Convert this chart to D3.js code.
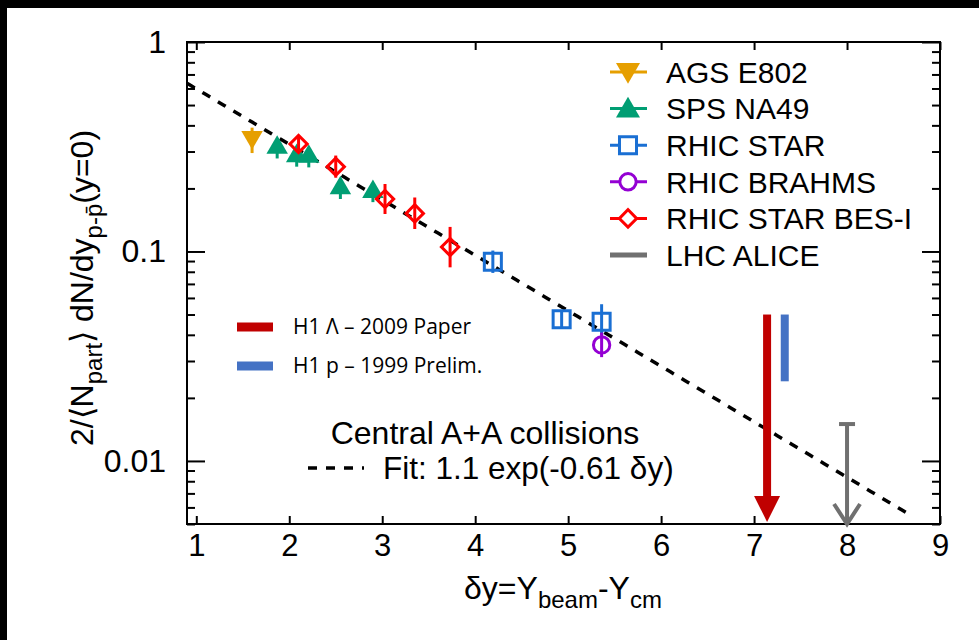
<!DOCTYPE html>
<html>
<head>
<meta charset="utf-8">
<script src="https://cdn.jsdelivr.net/npm/d3@7"></script>
<style>
html, body { margin: 0; padding: 0; background: #000; overflow: hidden; }
svg { display: block; }
text { font-family: "Liberation Sans", Arial, sans-serif; fill: #000; }
</style>
</head>
<body>
<div id="chart"></div>
<script>
// values (dy, yield, error range)
var agsE802 = [ {x: 1.60, y: 0.340, lo: 0.295, hi: 0.390} ];
var spsNA49 = [
    {x: 1.87, y: 0.320, lo: 0.278, hi: 0.345},
    {x: 2.08, y: 0.292, lo: 0.254, hi: 0.315},
    {x: 2.21, y: 0.290, lo: 0.252, hi: 0.312},
    {x: 2.55, y: 0.205, lo: 0.178, hi: 0.222},
    {x: 2.90, y: 0.197, lo: 0.172, hi: 0.212}
];
var rhicStar = [
    {x: 4.19, y: 0.0894, lo: 0.079, hi: 0.101},
    {x: 4.93, y: 0.0475, lo: 0.0436, hi: 0.0518},
    {x: 5.36, y: 0.0462, lo: 0.040, hi: 0.0560}
];
var rhicBrahms = [ {x: 5.36, y: 0.0358, lo: 0.0313, hi: 0.041} ];
var starBES = [
    {x: 2.10, y: 0.326, lo: 0.302, hi: 0.352},
    {x: 2.50, y: 0.254, lo: 0.225, hi: 0.287},
    {x: 3.03, y: 0.178, lo: 0.151, hi: 0.210},
    {x: 3.35, y: 0.152, lo: 0.128, hi: 0.181},
    {x: 3.73, y: 0.105, lo: 0.084, hi: 0.131}
];
var aliceLimit = [ {x: 8.0, y: 0.015} ];
var h1Lambda = [ {x: 7.14, top: 0.05} ];
var h1Proton = [ {x: 7.33, top: 0.05, bottom: 0.024} ];

// fit: 1.1 exp(-0.61 dy)
var fitA = 1.1, fitB = 0.61, fitRange = [0.9, 8.65];

var xTicks = [1, 2, 3, 4, 5, 6, 7, 8, 9];
var yMajor = [0.01, 0.1, 1];
var yTickLabels = ["0.01", "0.1", "1"];

var legendNames = ["AGS E802", "SPS NA49", "RHIC STAR", "RHIC BRAHMS", "RHIC STAR BES-I", "LHC ALICE"];
var legendColors = ["#E69F00", "#009E73", "#1A6FD3", "#9400D3", "#FF0000", "#707070"];
var legendShapes = ["tri-down", "tri-up", "square", "circle", "diamond", "none"];

// helpful variables
var W = 979, H = 640,
    plotL = 187, plotR = 940, plotT = 42, plotB = 524;

var svg = d3.select("#chart").append("svg")
    .attr("width", W)
    .attr("height", H);

svg.append("rect")
    .attr("x", 7).attr("y", 8)
    .attr("width", W - 7).attr("height", H - 8)
    .style("fill", "#fff");

var x = d3.scaleLinear().domain([0.9, 9.0]).range([plotL, plotR]);
var y = d3.scaleLog().domain([0.005, 1]).range([plotB, plotT]);

// minor y ticks 2..9 per decade
var yMinor = [];
[0.001, 0.01, 0.1].forEach(function(d) {
    for (var k = 2; k <= 9; k++) {
        var v = d * k;
        if (v >= 0.005 && v <= 1) yMinor.push(v);
    }
});

function styleAxis(g) {
    g.selectAll(".domain").remove();
    g.selectAll(".tick line").style("stroke", "#000").style("stroke-width", 2);
}

// x axes (inward ticks)
svg.append("g")
    .attr("transform", "translate(0," + plotB + ")")
    .call(d3.axisBottom(x).tickValues(xTicks).tickSize(-8).tickPadding(10).tickFormat(d3.format("d")))
    .call(styleAxis)
    .selectAll("text")
    .style("font-size", "31px");

svg.append("g")
    .attr("transform", "translate(0," + plotT + ")")
    .call(d3.axisTop(x).tickValues(xTicks).tickSize(-8).tickFormat(""))
    .call(styleAxis);

// y axes
svg.append("g")
    .attr("transform", "translate(" + plotL + ",0)")
    .call(d3.axisLeft(y).tickValues(yMajor).tickSize(-18).tickPadding(21)
        .tickFormat(function(d, i) { return yTickLabels[i]; }))
    .call(styleAxis)
    .selectAll("text")
    .style("font-size", "32px");

svg.append("g")
    .attr("transform", "translate(" + plotL + ",0)")
    .call(d3.axisLeft(y).tickValues(yMinor).tickSize(-8).tickFormat(""))
    .call(styleAxis);

svg.append("g")
    .attr("transform", "translate(" + plotR + ",0)")
    .call(d3.axisRight(y).tickValues(yMajor).tickSize(-18).tickFormat(""))
    .call(styleAxis);

svg.append("g")
    .attr("transform", "translate(" + plotR + ",0)")
    .call(d3.axisRight(y).tickValues(yMinor).tickSize(-8).tickFormat(""))
    .call(styleAxis);

// frame
svg.append("rect")
    .attr("x", plotL).attr("y", plotT)
    .attr("width", plotR - plotL).attr("height", plotB - plotT)
    .style("fill", "none")
    .style("stroke", "#000")
    .style("stroke-width", 2);

// fit line
var fitPts = d3.range(fitRange[0], fitRange[1] + 0.001, 0.05).map(function(d) {
    return [d, fitA * Math.exp(-fitB * d)];
});
svg.append("path")
    .datum(fitPts)
    .attr("d", d3.line().x(function(d) { return x(d[0]); }).y(function(d) { return y(d[1]); }))
    .style("fill", "none")
    .style("stroke", "#000")
    .style("stroke-width", 3.5)
    .style("stroke-dasharray", "9,9");

// marker generator
function markerPath(shape, big) {
    var k = big ? 1.25 : 1;
    if (shape == "tri-up" || shape == "tri-down") return d3.symbol().type(d3.symbolTriangle).size(200 * k)();
    if (shape == "square") return d3.symbol().type(d3.symbolSquare).size(290)();
    if (shape == "circle") return d3.symbol().type(d3.symbolCircle).size(210)();
    if (shape == "diamond") return d3.symbol().type(d3.symbolSquare).size(150)();
    return null;
}
function markerRotate(shape) {
    if (shape == "tri-down") return 180;
    if (shape == "diamond") return 45;
    return 0;
}
function filled(shape) {
    return shape == "tri-up" || shape == "tri-down";
}

function drawSeries(data, color, shape) {
    var g = svg.append("g");
    // error bars
    g.selectAll(".err")
        .data(data)
        .enter().append("line")
        .attr("x1", function(d) { return x(d.x); })
        .attr("x2", function(d) { return x(d.x); })
        .attr("y1", function(d) { return y(d.lo); })
        .attr("y2", function(d) { return y(d.hi); })
        .style("stroke", color)
        .style("stroke-width", 3);
    g.selectAll(".mark")
        .data(data)
        .enter().append("path")
        .attr("d", markerPath(shape))
        .attr("transform", function(d) {
            var dy = shape == "tri-down" ? -3 : (shape == "tri-up" ? 2 : 0);
            return "translate(" + x(d.x) + "," + (y(d.y) + dy) + ") rotate(" + markerRotate(shape) + ")";
        })
        .style("fill", filled(shape) ? color : "none")
        .style("stroke", color)
        .style("stroke-width", filled(shape) ? 0 : 3);
}

drawSeries(agsE802, legendColors[0], legendShapes[0]);
drawSeries(spsNA49, legendColors[1], legendShapes[1]);
drawSeries(rhicStar, legendColors[2], legendShapes[2]);
drawSeries(rhicBrahms, legendColors[3], legendShapes[3]);
drawSeries(starBES, legendColors[4], legendShapes[4]);

// H1 lambda arrow (red)
h1Lambda.forEach(function(d) {
    var cx = x(d.x), y0 = y(d.top), tip = y(0.005) - 2, headH = 26, headW = 13;
    svg.append("rect")
        .attr("x", cx - 4).attr("y", y0)
        .attr("width", 8).attr("height", tip - headH - y0 + 1)
        .style("fill", "#C00000");
    svg.append("path")
        .attr("d", "M" + (cx - headW) + "," + (tip - headH) + "L" + (cx + headW) + "," + (tip - headH) + "L" + cx + "," + tip + "Z")
        .style("fill", "#C00000");
});

// H1 proton bar (blue)
h1Proton.forEach(function(d) {
    svg.append("rect")
        .attr("x", x(d.x) - 4).attr("y", y(d.top))
        .attr("width", 8).attr("height", y(d.bottom) - y(d.top))
        .style("fill", "#4472C4");
});

// ALICE upper limit (grey)
aliceLimit.forEach(function(d) {
    var cx = x(d.x), y0 = y(d.y), tip = y(0.005);
    var g = svg.append("g").style("stroke", "#707070").style("stroke-width", 4).style("fill", "none");
    g.append("line").attr("x1", cx).attr("x2", cx).attr("y1", y0).attr("y2", tip);
    g.append("line").attr("x1", cx - 8).attr("x2", cx + 8).attr("y1", y0).attr("y2", y0);
    g.append("path").attr("d", "M" + (cx - 13) + "," + (tip - 20) + "L" + cx + "," + tip + "L" + (cx + 13) + "," + (tip - 20));
});

// legend
var legend_groups = svg.selectAll(".legend")
    .data(legendNames)
    .enter().append("g")
    .attr("class", "legend")
    .attr("transform", function(d, i) {
        return "translate(0," + (72 + i * 36.6) + ")";
    });

legend_groups.append("line")
    .attr("x1", 610).attr("x2", 647)
    .attr("y1", 0).attr("y2", 0)
    .style("stroke", function(d, i) { return legendColors[i]; })
    .style("stroke-width", function(d, i) { return i == 5 ? 5 : 3; });

legend_groups.filter(function(d, i) { return legendShapes[i] != "none"; })
    .append("path")
    .attr("d", function(d, i) { return markerPath(legendShapes[i], true); })
    .attr("transform", function(d, i) {
        var dy = legendShapes[i] == "tri-down" ? -2 : (legendShapes[i] == "tri-up" ? 2 : 0);
        return "translate(628," + dy + ") rotate(" + markerRotate(legendShapes[i]) + ")";
    })
    .style("fill", function(d, i) { return filled(legendShapes[i]) ? legendColors[i] : "#fff"; })
    .style("stroke", function(d, i) { return legendColors[i]; })
    .style("stroke-width", function(d, i) { return filled(legendShapes[i]) ? 0 : 3; });

legend_groups.append("text")
    .attr("x", 666)
    .attr("y", 0)
    .attr("dy", ".36em")
    .style("font-size", "30px")
    .text(function(d) { return d; });

// H1 legend
var h1Names = ["H1 \u039B \u2013 2009 Paper", "H1 p \u2013 1999 Prelim."];
var h1Colors = ["#C00000", "#4472C4"];
var h1_groups = svg.selectAll(".h1legend")
    .data(h1Names)
    .enter().append("g")
    .attr("class", "h1legend")
    .attr("transform", function(d, i) { return "translate(0," + (327 + i * 39) + ")"; });
h1_groups.append("rect")
    .attr("x", 237).attr("y", -4.5)
    .attr("width", 36).attr("height", 9)
    .style("fill", function(d, i) { return h1Colors[i]; });
h1_groups.append("text")
    .attr("x", 293).attr("y", 0).attr("dy", ".35em")
    .style("font-family", "'Open Sans', 'Noto Sans', sans-serif")
    .style("font-size", "21px")
    .text(function(d) { return d; });

// annotation
svg.append("text")
    .attr("x", 485).attr("y", 432).attr("dy", ".36em")
    .style("text-anchor", "middle")
    .style("font-size", "32px")
    .text("Central A+A collisions");
svg.append("line")
    .attr("x1", 308).attr("x2", 364)
    .attr("y1", 468).attr("y2", 468)
    .style("stroke", "#000")
    .style("stroke-width", 3.5)
    .style("stroke-dasharray", "9,9");
svg.append("text")
    .attr("x", 383).attr("y", 468).attr("dy", ".36em")
    .style("font-size", "31.5px")
    .text("Fit: 1.1 exp(-0.61 \u03B4y)");

// x title
var xt = svg.append("text")
    .attr("x", 563).attr("y", 599)
    .style("text-anchor", "middle")
    .style("font-size", "32px");
xt.append("tspan").text("\u03B4y=Y");
xt.append("tspan").attr("dy", 9).style("font-size", "24px").text("beam");
xt.append("tspan").attr("dy", -9).text("-Y");
xt.append("tspan").attr("dy", 9).style("font-size", "24px").text("cm");

// y title
var yt = svg.append("text")
    .attr("transform", "translate(93,288) rotate(-90)")
    .style("text-anchor", "middle")
    .style("font-size", "32px");
yt.append("tspan").text("2/\u27E8N");
yt.append("tspan").attr("dy", 9).style("font-size", "24px").text("part");
yt.append("tspan").attr("dy", -9).text("\u27E9 dN/dy");
yt.append("tspan").attr("dy", 9).style("font-size", "24px").text("p-p\u0304");
yt.append("tspan").attr("dy", -9).text("(y=0)");
</script>
</body>
</html>
